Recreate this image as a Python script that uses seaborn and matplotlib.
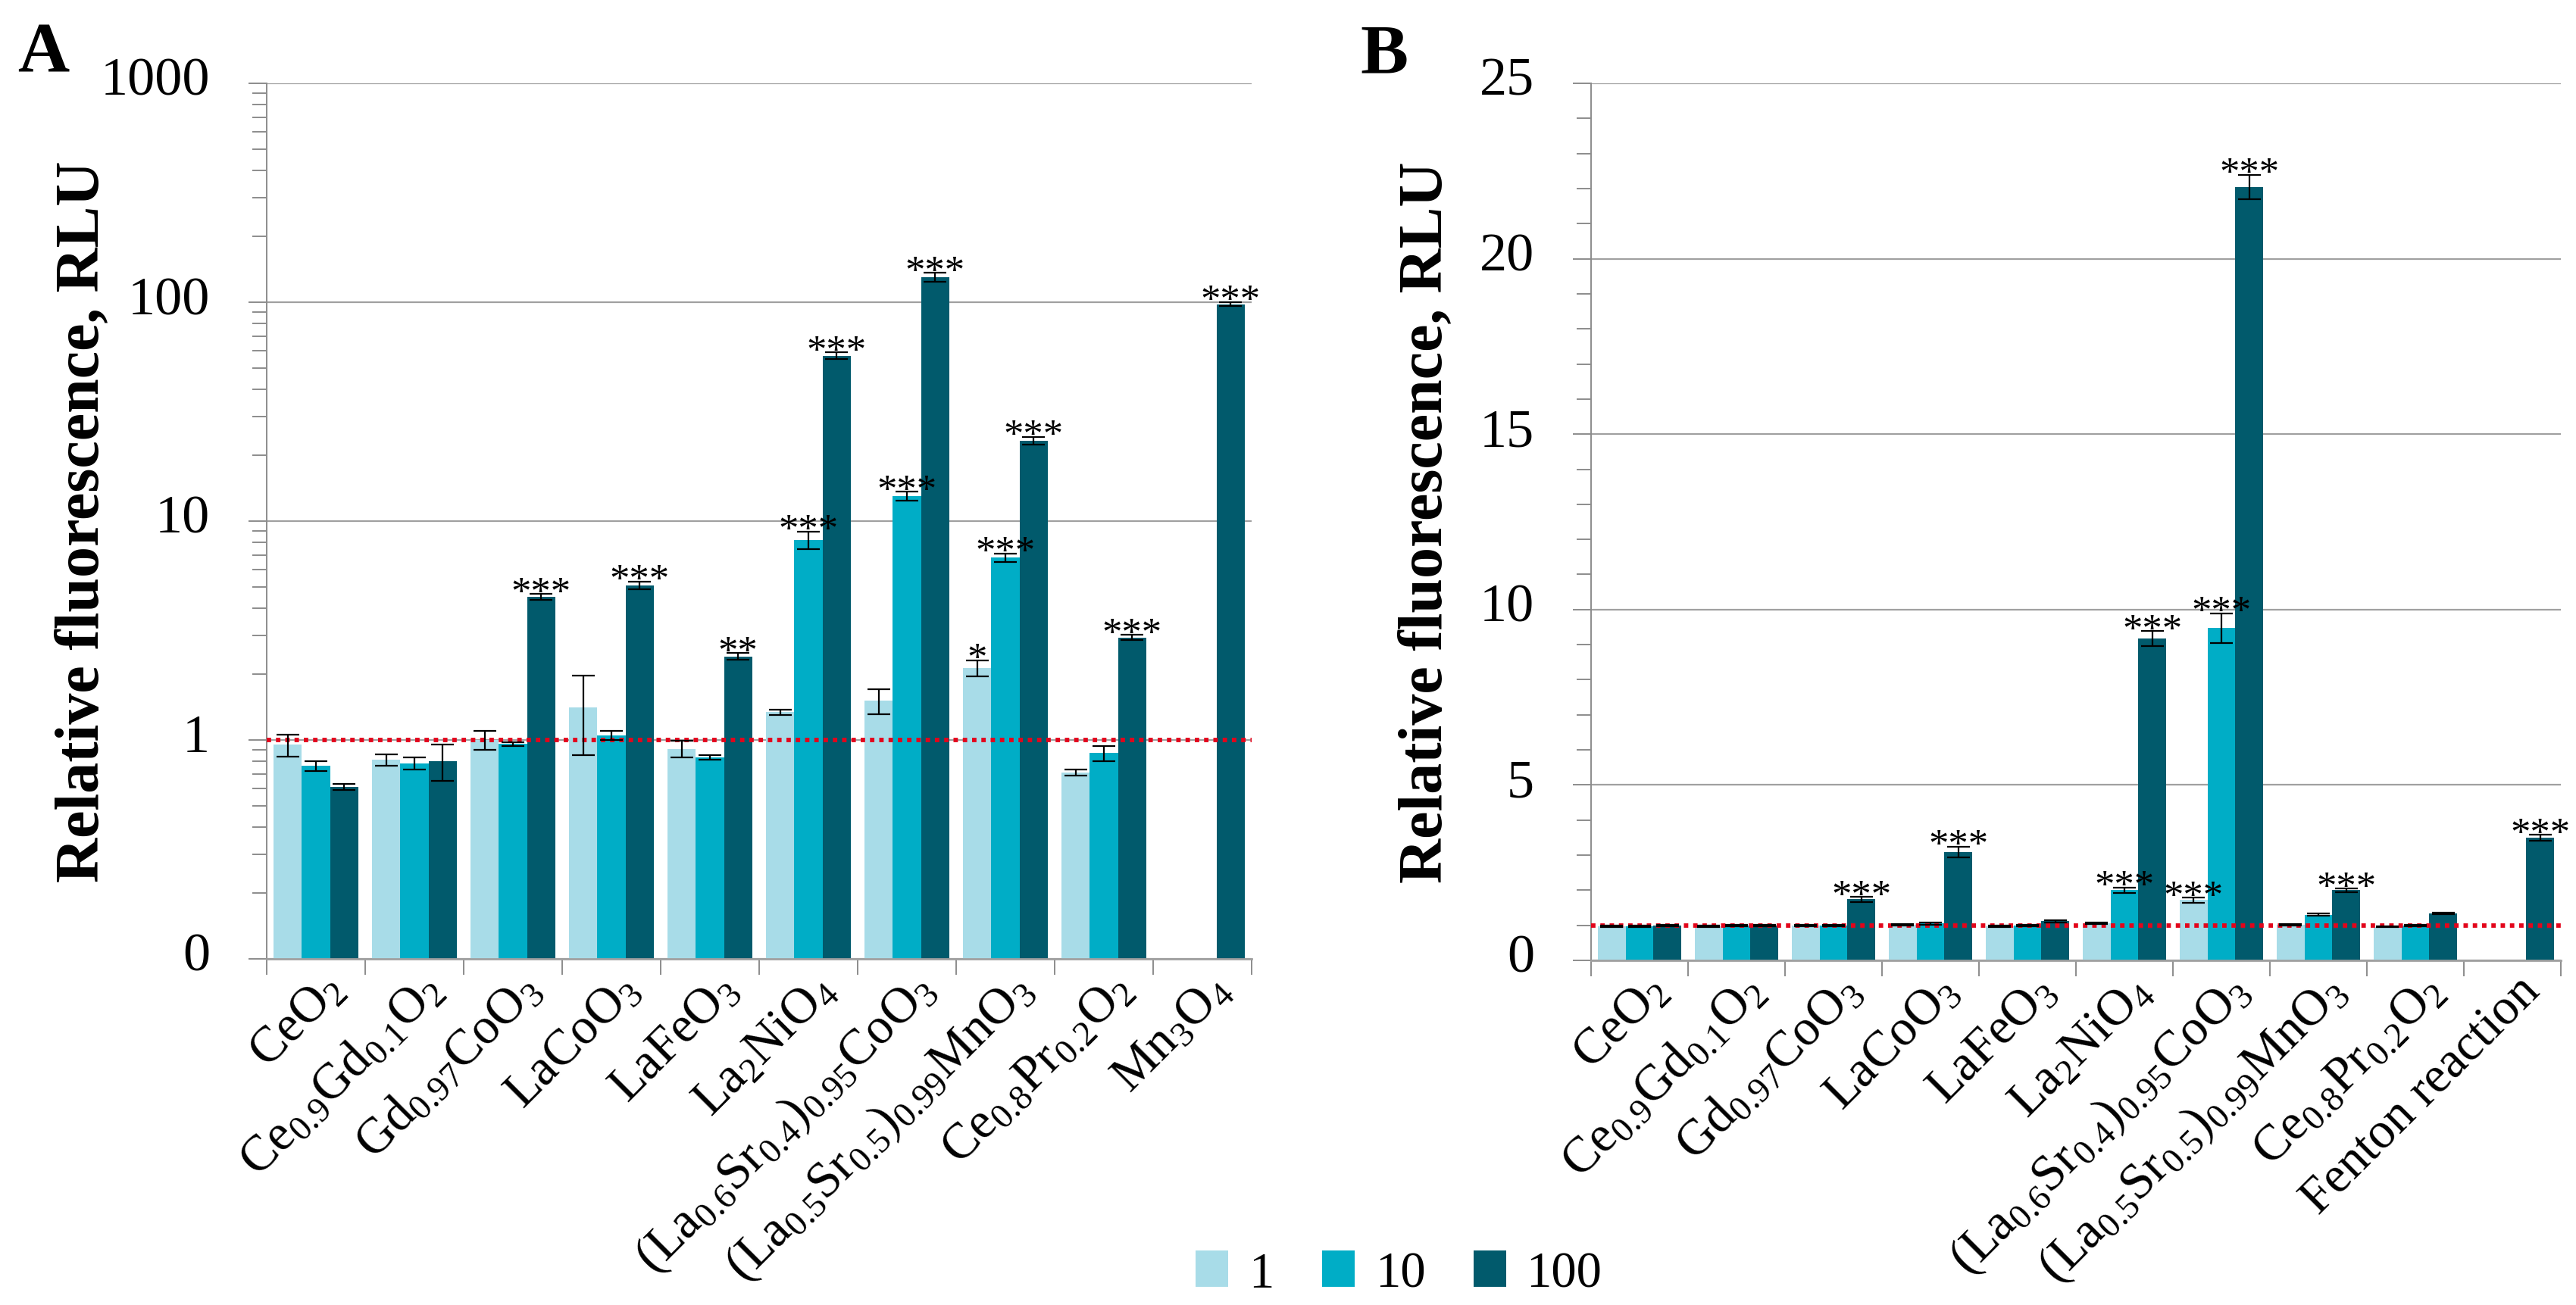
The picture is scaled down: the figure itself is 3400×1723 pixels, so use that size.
import numpy as np
import pandas as pd
import matplotlib
matplotlib.use("Agg")
import matplotlib.pyplot as plt
import matplotlib.transforms as mtransforms
from matplotlib.ticker import FixedLocator, FixedFormatter, NullFormatter, MultipleLocator
import seaborn as sns

# ---------------- data ----------------
concentrations = ["1", "10", "100"]
colors = ["#A8DCE8", "#00ADC6", "#015A6C"]

materials_a = [
    r"CeO$_{\mathregular{2}}$",
    r"Ce$_{\mathregular{0.9}}$Gd$_{\mathregular{0.1}}$O$_{\mathregular{2}}$",
    r"Gd$_{\mathregular{0.97}}$CoO$_{\mathregular{3}}$",
    r"LaCoO$_{\mathregular{3}}$",
    r"LaFeO$_{\mathregular{3}}$",
    r"La$_{\mathregular{2}}$NiO$_{\mathregular{4}}$",
    r"(La$_{\mathregular{0.6}}$Sr$_{\mathregular{0.4}}$)$_{\mathregular{0.95}}$CoO$_{\mathregular{3}}$",
    r"(La$_{\mathregular{0.5}}$Sr$_{\mathregular{0.5}}$)$_{\mathregular{0.99}}$MnO$_{\mathregular{3}}$",
    r"Ce$_{\mathregular{0.8}}$Pr$_{\mathregular{0.2}}$O$_{\mathregular{2}}$",
    r"Mn$_{\mathregular{3}}$O$_{\mathregular{4}}$",
]
materials_b = materials_a[:9] + ["Fenton reaction"]

nan = np.nan
a_1 = [0.95, 0.81, 1.00, 1.41, 0.91, 1.34, 1.51, 2.13, 0.71, nan]
a_10 = [0.76, 0.78, 0.96, 1.05, 0.83, 8.2, 13.0, 6.8, 0.87, nan]
a_100 = [0.61, 0.80, 4.5, 5.1, 2.41, 57.0, 130.0, 23.3, 2.94, 98.0]
err_a_1 = [0.11, 0.05, 0.10, 0.56, 0.08, 0.04, 0.20, 0.18, 0.02, nan]
err_a_10 = [0.04, 0.05, 0.02, 0.05, 0.02, 0.75, 0.6, 0.3, 0.07, nan]
err_a_100 = [0.02, 0.15, 0.15, 0.2, 0.08, 2.0, 6.0, 1.0, 0.08, 2.0]
sig_a_1 = ["", "", "", "", "", "", "", "*", "", ""]
sig_a_10 = ["", "", "", "", "", "***", "***", "***", "", ""]
sig_a_100 = ["", "", "***", "***", "**", "***", "***", "***", "***", "***"]

b_1 = [0.97, 0.98, 0.99, 1.02, 0.98, 1.05, 1.72, 1.02, 0.96, nan]
b_10 = [0.98, 0.99, 0.99, 1.05, 1.00, 2.00, 9.47, 1.30, 1.00, nan]
b_100 = [0.99, 1.00, 1.74, 3.09, 1.12, 9.17, 22.04, 2.00, 1.34, 3.50]
err_b_1 = [0.02, 0.02, 0.02, 0.02, 0.02, 0.02, 0.07, 0.02, 0.02, nan]
err_b_10 = [0.02, 0.02, 0.02, 0.03, 0.02, 0.08, 0.42, 0.03, 0.02, nan]
err_b_100 = [0.02, 0.02, 0.07, 0.15, 0.03, 0.22, 0.35, 0.05, 0.03, 0.08]
sig_b_1 = ["", "", "", "", "", "", "***", "", "", ""]
sig_b_10 = ["", "", "", "", "", "***", "***", "", "", ""]
sig_b_100 = ["", "", "***", "***", "", "***", "***", "***", "", "***"]

a_ticks = [0.1, 1, 10, 100, 1000]
a_tick_labels = ["0", "1", "10", "100", "1000"]

# ---------------- style ----------------
sns.set_theme(style="white")
plt.rcParams["font.family"] = ["Liberation Serif", "DejaVu Serif"]
plt.rcParams["mathtext.fontset"] = "custom"
plt.rcParams["mathtext.rm"] = "Liberation Serif"
plt.rcParams["mathtext.it"] = "Liberation Serif:italic"
plt.rcParams["mathtext.bf"] = "Liberation Serif:bold"
plt.rcParams["text.color"] = "black"
plt.rcParams["axes.labelcolor"] = "black"

W, H = 3400, 1724
fig = plt.figure(figsize=(W / 100, H / 100), dpi=100)
axA = fig.add_axes([352 / W, 1 - 1267 / H, 1300 / W, 1156 / H])
axB = fig.add_axes([2100 / W, 1 - 1269 / H, 1280 / W, 1158 / H])

XTICK_FS = 48
YTICK_FS = 52
GRID_C = "#A0A0A0"


def long_df(materials, series):
    rows = []
    for conc, vals in zip(concentrations, series):
        for m, v in zip(materials, vals):
            if not np.isnan(v):
                rows.append({"material": m, "conc": conc, "value": v})
    return pd.DataFrame(rows)


def draw_panel(ax, materials, series, errs, sigs, log):
    df = long_df(materials, series)
    sns.barplot(data=df, x="material", y="value", hue="conc", order=materials,
                hue_order=concentrations, palette=colors, errorbar=None,
                width=0.86, saturation=1, linewidth=0, ax=ax, legend=True)
    if log:
        ax.set_yscale("log")
    ax.set_axisbelow(True)
    # error bars and significance marks, positioned on the drawn bars
    for i, cont in enumerate(ax.containers[:3]):
        for bar in cont:
            xc = bar.get_x() + bar.get_width() / 2
            j = int(round(xc))
            v = series[i][j]
            e = errs[i][j]
            if np.isnan(v):
                continue
            ax.errorbar(xc, v, yerr=e, fmt="none", ecolor="black",
                        elinewidth=1.6, capsize=11, capthick=1.6, zorder=6)
            if sigs[i][j]:
                ax.annotate(sigs[i][j], (xc, v + e), xytext=(0, -9),
                            textcoords="offset points", ha="center",
                            va="baseline", fontsize=38, color="black", zorder=7)
    ax.axhline(1, color="#E3051B", lw=4.2, linestyle=(0, (1, 1.1)), zorder=5)
    ax.set_xlim(-0.5, len(materials) - 0.5)
    ax.yaxis.grid(True, which="major", color=GRID_C, lw=1.6)
    ax.xaxis.grid(False)
    for s in ["top", "right"]:
        ax.spines[s].set_visible(False)
    ax.spines["left"].set_color("#8C8C8C")
    ax.spines["left"].set_linewidth(1.4)
    ax.spines["bottom"].set_color("#A0A0A0")
    ax.spines["bottom"].set_linewidth(2.0)
    ax.set_xlabel("")
    ax.set_ylabel("Relative fluorescence, RLU", fontsize=59, fontweight="bold",
                  color="black")
    # x ticks: separators between groups
    ax.set_xticks(range(len(materials)))
    ax.set_xticklabels(materials, rotation=45, ha="right", va="center",
                       rotation_mode="anchor", fontsize=XTICK_FS, color="black")
    ax.xaxis.set_minor_locator(FixedLocator(np.arange(-0.5, len(materials), 1.0)))
    ax.tick_params(axis="x", which="major", length=0, pad=22)
    ax.tick_params(axis="x", which="minor", direction="out", length=15,
                   width=1.4, color="#8C8C8C", bottom=True)
    offset = mtransforms.ScaledTranslation(0.27, 0, fig.dpi_scale_trans)
    for lab in ax.get_xticklabels():
        lab.set_transform(lab.get_transform() + offset)
    ax.tick_params(axis="y", which="both", direction="out", left=True,
                   color="#8C8C8C", width=1.4, labelsize=YTICK_FS, pad=37,
                   labelcolor="black")
    ax.tick_params(axis="y", which="major", length=17)
    ax.tick_params(axis="y", which="minor", length=14)
    leg = ax.get_legend()
    handles = leg.legend_handles if leg is not None else []
    if leg is not None:
        leg.remove()
    return handles


def lift_ylabels(ax):
    up = mtransforms.ScaledTranslation(0, 0.10, fig.dpi_scale_trans)
    for lab in ax.get_yticklabels():
        lab.set_transform(lab.get_transform() + up)


handles = draw_panel(axA, materials_a, [a_1, a_10, a_100],
                     [err_a_1, err_a_10, err_a_100],
                     [sig_a_1, sig_a_10, sig_a_100], log=True)
axA.set_ylim(0.1, 1000)
axA.yaxis.set_major_locator(FixedLocator(a_ticks))
axA.yaxis.set_major_formatter(FixedFormatter(a_tick_labels))
minor = [m * 10.0 ** k for k in range(-1, 3) for m in range(2, 10)]
axA.yaxis.set_minor_locator(FixedLocator(minor))
axA.yaxis.set_minor_formatter(NullFormatter())
axA.yaxis.set_label_coords(-0.157, 0.5)
lift_ylabels(axA)

draw_panel(axB, materials_b, [b_1, b_10, b_100],
           [err_b_1, err_b_10, err_b_100],
           [sig_b_1, sig_b_10, sig_b_100], log=False)
axB.set_ylim(0, 25)
axB.yaxis.set_major_locator(MultipleLocator(5))
axB.yaxis.set_minor_locator(MultipleLocator(1))
axB.yaxis.set_label_coords(-0.140, 0.5)
lift_ylabels(axB)

fig.text(57 / W, 1 - 72 / H, "A", fontsize=68, fontweight="bold", ha="center", va="center")
fig.text(1827 / W, 1 - 74 / H, "B", fontsize=68, fontweight="bold", ha="center", va="center")

fig.legend(handles, concentrations, loc="center", bbox_to_anchor=(0.543, 1 - 1683 / H),
           ncol=3, frameon=False, fontsize=48, handlelength=0.65,
           handleheight=0.72, columnspacing=0.95, handletextpad=0.4)

fig.savefig("out.png", dpi=100)
